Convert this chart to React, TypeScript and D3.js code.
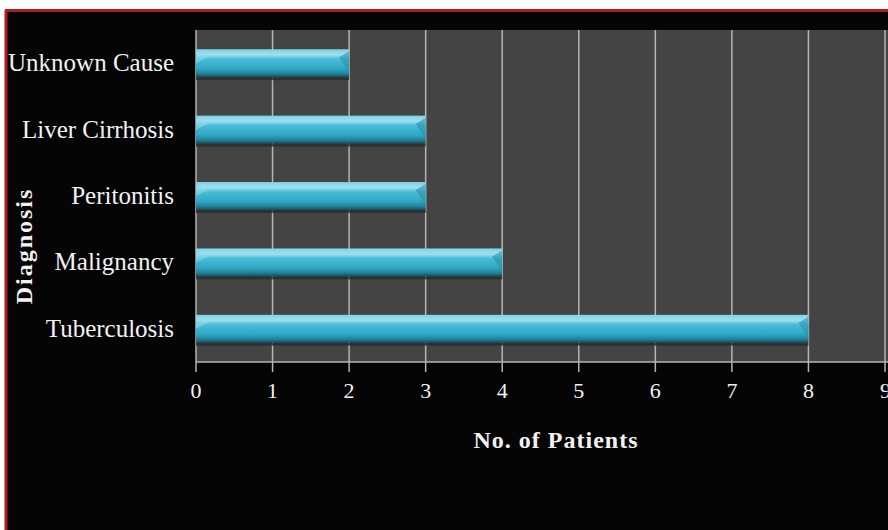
import React from "react";
import * as d3 from "d3";

const categories = ["Unknown Cause", "Liver Cirrhosis", "Peritonitis", "Malignancy", "Tuberculosis"];
const values = [2, 3, 3, 4, 8];
const xTicks = [0, 1, 2, 3, 4, 5, 6, 7, 8, 9];
const xTitle = "No. of Patients";
const yTitle = "Diagnosis";

export default function App() {
  const W = 888, H = 530;
  const plotL = 196, plotT = 30, plotB = 362;
  const x = d3.scaleLinear().domain([0, 9]).range([plotL, 885]);
  const y = d3.scaleBand().domain(categories).range([plotT, plotB]).paddingInner(0.58).paddingOuter(0.29);
  const font = "'Liberation Serif', 'Times New Roman', serif";
  return (
    <svg width={W} height={H} style={{ position: "absolute", left: 0, top: 0, display: "block" }}>
      <defs>
        <linearGradient id="barg" x1="0" y1="0" x2="0" y2="1">
          <stop offset="0" stopColor="#7fd3e6" />
          <stop offset="0.2" stopColor="#9ee0ef" />
          <stop offset="0.35" stopColor="#49bdd8" />
          <stop offset="0.7" stopColor="#2fa6c2" />
          <stop offset="0.88" stopColor="#1f8099" />
          <stop offset="1" stopColor="#1a4a58" />
        </linearGradient>
      </defs>
      <rect x={0} y={0} width={W} height={H} fill="#ffffff" />
      <rect x={5} y={10} width={W - 5} height={H - 10} fill="#050505" />
      <line x1={5} y1={10.5} x2={W} y2={10.5} stroke="#b01c20" strokeWidth={3} />
      <line x1={6} y1={10} x2={6} y2={H} stroke="#b01c20" strokeWidth={3} />
      <rect x={plotL} y={plotT} width={W - plotL} height={plotB - plotT} fill="#444444" />
      {xTicks.map((t) => (
        <line key={"g" + t} x1={x(t)} x2={x(t)} y1={plotT} y2={plotB + 10} stroke="#b4b4b4" strokeWidth={1.5} />
      ))}
      <line x1={plotL} x2={W} y1={plotB} y2={plotB} stroke="#b4b4b4" strokeWidth={1.5} />
      {categories.map((c, i) => {
        const by = y(c)!;
        const bh = y.bandwidth();
        const bx = x(0);
        const bw = x(values[i]) - x(0);
        return (
          <g key={c}>
            <rect x={bx} y={by + bh} width={bw} height={3} fill="#2a2a2a" opacity={0.8} />
            <rect x={bx} y={by} width={bw} height={bh} fill="url(#barg)" />
            <polygon points={`${bx},${by + 2} ${bx + 12},${by + 8} ${bx},${by + 14}`} fill="#8fd9ea" opacity={0.6} />
            <polygon points={`${bx + bw},${by + 2} ${bx + bw - 10},${by + 8} ${bx + bw},${by + bh - 4}`} fill="#2a93ad" opacity={0.6} />
            <text x={174} y={by + bh / 2 + 8} textAnchor="end" fill="#f2f2f2" fontFamily={font} fontSize={25}>
              {c}
            </text>
          </g>
        );
      })}
      {xTicks.map((t) => (
        <text key={"t" + t} x={x(t)} y={398} textAnchor={t === 9 ? "start" : "middle"} dx={t === 9 ? -5 : 0} fill="#f2f2f2" fontFamily={font} fontSize={22}>
          {t}
        </text>
      ))}
      <text x={556} y={448} textAnchor="middle" fill="#f2f2f2" fontFamily={font} fontSize={24} fontWeight="bold" letterSpacing={1}>
        {xTitle}
      </text>
      <text transform={`translate(32,${246}) rotate(-90)`} textAnchor="middle" fill="#f2f2f2" fontFamily={font} fontSize={24} fontWeight="bold" letterSpacing={2}>
        {yTitle}
      </text>
    </svg>
  );
}
